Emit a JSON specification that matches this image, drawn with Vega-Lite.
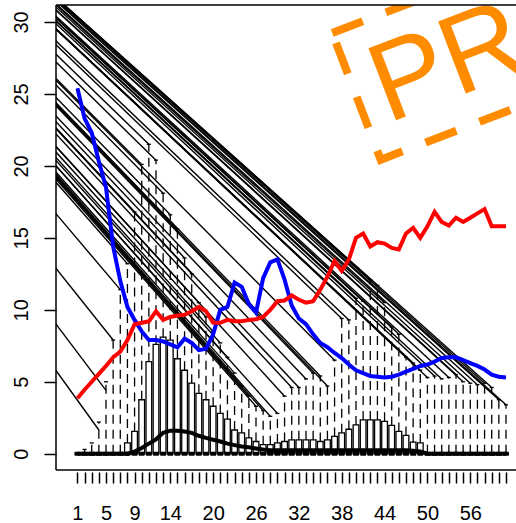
{
  "$schema": "https://vega.github.io/schema/vega-lite/v6.json",
  "width": 460,
  "height": 465,
  "autosize": {"type": "none"},
  "padding": {"left": 56, "top": 5, "right": 0, "bottom": 53},
  "background": "white",
  "config": {
    "view": {"stroke": null},
    "font": "Liberation Sans",
    "scale": {"continuousPadding": 0},
    "axis": {"grid": false, "domain": false, "title": null, "labelColor": "black", "tickColor": "black", "labelFont": "Liberation Sans", "labelFontSize": 20, "tickWidth": 1.5}
  },
  "datasets": {
    "cats": [
      {"cat":1,"q1":0,"q3":0,"top":0,"med":0,"red":3.85,"blue":25.4},
      {"cat":2,"q1":0,"q3":0,"top":0.3,"med":0,"red":4.45,"blue":23.3},
      {"cat":3,"q1":0,"q3":0,"top":0.75,"med":0,"red":5.0,"blue":22.3},
      {"cat":4,"q1":0,"q3":0,"top":2.2,"med":0,"red":5.55,"blue":20.3},
      {"cat":5,"q1":0,"q3":0,"top":5.0,"med":0,"red":6.1,"blue":18.5},
      {"cat":6,"q1":0,"q3":0,"top":7.9,"med":0,"red":6.7,"blue":14.4},
      {"cat":7,"q1":0,"q3":0,"top":11.4,"med":0,"red":7.1,"blue":12.0},
      {"cat":8,"q1":0,"q3":0.75,"top":13.2,"med":0,"red":7.9,"blue":10.2},
      {"cat":9,"q1":0,"q3":1.55,"top":16.8,"med":0.15,"red":9.0,"blue":9.3},
      {"cat":10,"q1":0,"q3":3.75,"top":20.1,"med":0.4,"red":9.1,"blue":8.5},
      {"cat":11,"q1":0,"q3":6.4,"top":21.5,"med":0.7,"red":9.2,"blue":7.9},
      {"cat":12,"q1":0,"q3":7.6,"top":20.4,"med":1.0,"red":9.9,"blue":7.9},
      {"cat":13,"q1":0,"q3":8.1,"top":18.1,"med":1.45,"red":9.3,"blue":7.8},
      {"cat":14,"q1":0,"q3":7.9,"top":16.6,"med":1.6,"red":9.5,"blue":7.6},
      {"cat":15,"q1":0,"q3":6.6,"top":15.6,"med":1.6,"red":9.6,"blue":7.4},
      {"cat":16,"q1":0,"q3":5.8,"top":13.6,"med":1.55,"red":9.65,"blue":8.0},
      {"cat":17,"q1":0,"q3":4.9,"top":12.5,"med":1.45,"red":9.9,"blue":7.7},
      {"cat":18,"q1":0,"q3":4.2,"top":10.5,"med":1.25,"red":10.2,"blue":7.2},
      {"cat":19,"q1":0,"q3":3.75,"top":9.5,"med":1.1,"red":9.9,"blue":7.3},
      {"cat":20,"q1":0,"q3":3.3,"top":8.5,"med":0.97,"red":9.1,"blue":8.3},
      {"cat":21,"q1":0,"q3":2.8,"top":7.7,"med":0.85,"red":9.1,"blue":10.0},
      {"cat":22,"q1":0,"q3":2.4,"top":6.7,"med":0.7,"red":9.3,"blue":10.2},
      {"cat":23,"q1":0,"q3":1.65,"top":5.6,"med":0.6,"red":9.2,"blue":11.9},
      {"cat":24,"q1":0,"q3":1.45,"top":4.7,"med":0.5,"red":9.2,"blue":11.6},
      {"cat":25,"q1":0,"q3":1.1,"top":4.0,"med":0.45,"red":9.3,"blue":10.4},
      {"cat":26,"q1":0,"q3":0.85,"top":3.3,"med":0.37,"red":9.35,"blue":9.8},
      {"cat":27,"q1":0,"q3":0.63,"top":3.0,"med":0.3,"red":9.5,"blue":12.2},
      {"cat":28,"q1":0,"q3":0.63,"top":2.6,"med":0.25,"red":10.0,"blue":13.3},
      {"cat":29,"q1":0,"q3":0.75,"top":2.8,"med":0.25,"red":10.6,"blue":13.5},
      {"cat":30,"q1":0,"q3":0.85,"top":4.0,"med":0.25,"red":10.65,"blue":12.1},
      {"cat":31,"q1":0,"q3":0.97,"top":4.6,"med":0.25,"red":11.0,"blue":10.3},
      {"cat":32,"q1":0,"q3":0.97,"top":4.6,"med":0.25,"red":10.7,"blue":9.4},
      {"cat":33,"q1":0,"q3":0.97,"top":5.2,"med":0.25,"red":10.5,"blue":9.0},
      {"cat":34,"q1":0,"q3":0.97,"top":5.6,"med":0.25,"red":10.6,"blue":8.3},
      {"cat":35,"q1":0,"q3":0.85,"top":5.4,"med":0.25,"red":11.4,"blue":7.7},
      {"cat":36,"q1":0,"q3":0.97,"top":4.7,"med":0.25,"red":12.3,"blue":7.4},
      {"cat":37,"q1":0,"q3":1.2,"top":6.5,"med":0.25,"red":13.4,"blue":7.0},
      {"cat":38,"q1":0,"q3":1.45,"top":9.4,"med":0.25,"red":12.7,"blue":6.65},
      {"cat":39,"q1":0,"q3":1.7,"top":9.3,"med":0.25,"red":13.5,"blue":6.2},
      {"cat":40,"q1":0,"q3":2.0,"top":10.8,"med":0.25,"red":15.0,"blue":5.8},
      {"cat":41,"q1":0,"q3":2.35,"top":10.6,"med":0.25,"red":15.3,"blue":5.6},
      {"cat":42,"q1":0,"q3":2.35,"top":12.1,"med":0.25,"red":14.4,"blue":5.4},
      {"cat":43,"q1":0,"q3":2.35,"top":11.7,"med":0.25,"red":14.7,"blue":5.35},
      {"cat":44,"q1":0,"q3":2.25,"top":10.5,"med":0.25,"red":14.6,"blue":5.3},
      {"cat":45,"q1":0,"q3":1.97,"top":8.8,"med":0.25,"red":14.3,"blue":5.35},
      {"cat":46,"q1":0,"q3":1.55,"top":8.3,"med":0.25,"red":14.2,"blue":5.5},
      {"cat":47,"q1":0,"q3":1.27,"top":6.7,"med":0.25,"red":15.3,"blue":5.7},
      {"cat":48,"q1":0,"q3":0.8,"top":6.3,"med":0.2,"red":15.7,"blue":5.9},
      {"cat":49,"q1":0,"q3":0.75,"top":5.8,"med":0.15,"red":15.0,"blue":6.1},
      {"cat":50,"q1":0,"q3":0,"top":5.3,"med":0,"red":15.8,"blue":6.2},
      {"cat":51,"q1":0,"q3":0,"top":5.4,"med":0,"red":16.8,"blue":6.4},
      {"cat":52,"q1":0,"q3":0,"top":5.2,"med":0,"red":16.1,"blue":6.65},
      {"cat":53,"q1":0,"q3":0,"top":5.3,"med":0,"red":15.85,"blue":6.7},
      {"cat":54,"q1":0,"q3":0,"top":5.5,"med":0,"red":16.4,"blue":6.7},
      {"cat":55,"q1":0,"q3":0,"top":5.0,"med":0,"red":16.1,"blue":6.5},
      {"cat":56,"q1":0,"q3":0,"top":4.9,"med":0,"red":16.4,"blue":6.3},
      {"cat":57,"q1":0,"q3":0,"top":4.8,"med":0,"red":16.7,"blue":6.1},
      {"cat":58,"q1":0,"q3":0,"top":4.9,"med":0,"red":17.0,"blue":5.85},
      {"cat":59,"q1":0,"q3":0,"top":4.6,"med":0,"red":15.8,"blue":5.5},
      {"cat":60,"q1":0,"q3":0,"top":3.75,"med":0,"red":15.8,"blue":5.35},
      {"cat":61,"q1":0,"q3":0,"top":3.4,"med":0,"red":15.8,"blue":5.3}
    ],
    "rays": [
      {"cat":4,"end":1.65},{"cat":5,"end":4.4},{"cat":6,"end":7.9},{"cat":7,"end":11.4},
      {"cat":8,"end":13.2},{"cat":9,"end":16.8},{"cat":10,"end":20.1},{"cat":11,"end":21.5},
      {"cat":12,"end":20.4},{"cat":13,"end":18.1},{"cat":14,"end":16.6},{"cat":15,"end":15.6},
      {"cat":16,"end":13.6},{"cat":17,"end":12.5},{"cat":18,"end":10.5},{"cat":19,"end":9.5},
      {"cat":20,"end":8.5},{"cat":21,"end":7.7},{"cat":22,"end":6.7},{"cat":23,"end":5.6},
      {"cat":24,"end":4.7},{"cat":25,"end":4.0},{"cat":26,"end":3.3},{"cat":27,"end":3.0},
      {"cat":28,"end":2.6},{"cat":29,"end":2.8},{"cat":30,"end":4.0},{"cat":31,"end":4.6},
      {"cat":32,"end":4.6},{"cat":33,"end":5.2},{"cat":34,"end":5.6},{"cat":35,"end":5.4},
      {"cat":36,"end":4.7},{"cat":37,"end":6.5},{"cat":38,"end":9.4},{"cat":39,"end":9.3},
      {"cat":40,"end":10.8},{"cat":41,"end":10.6},{"cat":42,"end":12.1},{"cat":43,"end":11.7},
      {"cat":44,"end":10.5},{"cat":45,"end":8.8},{"cat":46,"end":8.3},{"cat":47,"end":6.7},
      {"cat":48,"end":6.3},{"cat":49,"end":5.8},{"cat":50,"end":5.3},{"cat":51,"end":5.4},
      {"cat":52,"end":5.2},{"cat":53,"end":5.3},{"cat":54,"end":5.5},{"cat":55,"end":5.0},
      {"cat":56,"end":4.9},{"cat":57,"end":4.8},{"cat":58,"end":4.9},{"cat":59,"end":4.6},
      {"cat":60,"end":3.75},{"cat":61,"end":3.4}
    ],
    "stampbox": [
      {"k":0,"sx":36.67,"sy":29.24},
      {"k":1,"sx":43.46,"sy":20.43},
      {"k":2,"sx":104.0,"sy":31.96},
      {"k":3,"sx":97.2,"sy":40.75},
      {"k":4,"sx":36.67,"sy":29.24}
    ],
    "stamptext": [{"t":"PREVIEW","sx":44.4,"sy":22.95}]
  },
  "layer": [
    {
      "data": {"name": "cats"},
      "mark": {"type": "bar", "width": 5.7, "fill": "white", "stroke": "black", "strokeWidth": 1.3},
      "encoding": {
        "x": {"field": "cat", "type": "quantitative", "scale": {"domain": [-2, 62.4], "nice": false, "zero": false, "padding": 0},
          "axis": {"values": [1,2,3,4,5,6,7,8,9,10,11,12,13,14,15,16,17,18,19,20,21,22,23,24,25,26,27,28,29,30,31,32,33,34,35,36,37,38,39,40,41,42,43,44,45,46,47,48,49,50,51,52,53,54,55,56,57,58,59,60,61],
            "tickCount": 500, "format": "d",
            "labelExpr": "indexof([1,5,9,14,20,26,32,38,44,50,56], datum.value) >= 0 ? datum.label : ''",
            "tickSize": 11, "offset": 2, "labelBaseline": "alphabetic", "labelFontSize": 20,
            "labelPadding": 36, "labelOverlap": false, "labelFlush": false, "labelBound": false, "title": null}},
        "y": {"field": "q3", "type": "quantitative", "scale": {"domain": [-1.13, 31.18], "nice": false, "zero": false, "padding": 0},
          "axis": {"values": [0,5,10,15,20,25,30], "tickCount": 50, "format": "d", "tickSize": 12, "labelFontSize": 20,
            "labelAngle": 270, "labelAlign": "center", "labelBaseline": "alphabetic", "labelPadding": 17,
            "labelOverlap": false, "labelFlush": false, "title": null}},
        "y2": {"field": "q1"}
      }
    },
    {
      "data": {"name": "cats"},
      "mark": {"type": "rule", "strokeWidth": 1.3, "color": "black", "strokeDash": [9, 6]},
      "encoding": {
        "x": {"field": "cat", "type": "quantitative", "scale": {"domain": [-2, 62.4], "nice": false, "zero": false, "padding": 0}},
        "y": {"field": "q3", "type": "quantitative", "scale": {"domain": [-1.13, 31.18], "nice": false, "zero": false, "padding": 0}},
        "y2": {"field": "top"}
      }
    },
    {
      "data": {"name": "cats"},
      "mark": {"type": "tick", "orient": "horizontal", "size": 4, "thickness": 1.3, "color": "black", "opacity": 1},
      "encoding": {
        "x": {"field": "cat", "type": "quantitative", "scale": {"domain": [-2, 62.4], "nice": false, "zero": false, "padding": 0}},
        "y": {"field": "top", "type": "quantitative", "scale": {"domain": [-1.13, 31.18], "nice": false, "zero": false, "padding": 0}}
      }
    },
    {
      "data": {"name": "cats"},
      "mark": {"type": "tick", "orient": "horizontal", "size": 5.7, "thickness": 4, "color": "black", "opacity": 1},
      "encoding": {
        "x": {"field": "cat", "type": "quantitative", "scale": {"domain": [-2, 62.4], "nice": false, "zero": false, "padding": 0}},
        "y": {"field": "q1", "type": "quantitative", "scale": {"domain": [-1.13, 31.18], "nice": false, "zero": false, "padding": 0}}
      }
    },
    {
      "data": {"name": "rays"},
      "mark": {"type": "rule", "strokeWidth": 1.4, "color": "black", "clip": true},
      "encoding": {
        "x": {"field": "cat", "type": "quantitative", "scale": {"domain": [-2, 62.4], "nice": false, "zero": false, "padding": 0}},
        "y": {"field": "end", "type": "quantitative", "scale": {"domain": [-1.13, 31.18], "nice": false, "zero": false, "padding": 0}},
        "x2": {"datum": -108},
        "y2": {"datum": 78.8}
      }
    },
    {
      "data": {"name": "cats"},
      "mark": {"type": "line", "strokeWidth": 4, "color": "black"},
      "encoding": {
        "x": {"field": "cat", "type": "quantitative", "scale": {"domain": [-2, 62.4], "nice": false, "zero": false, "padding": 0}},
        "y": {"field": "med", "type": "quantitative", "scale": {"domain": [-1.13, 31.18], "nice": false, "zero": false, "padding": 0}}
      }
    },
    {
      "data": {"name": "cats"},
      "mark": {"type": "line", "strokeWidth": 4, "color": "#0000FF"},
      "encoding": {
        "x": {"field": "cat", "type": "quantitative", "scale": {"domain": [-2, 62.4], "nice": false, "zero": false, "padding": 0}},
        "y": {"field": "blue", "type": "quantitative", "scale": {"domain": [-1.13, 31.18], "nice": false, "zero": false, "padding": 0}}
      }
    },
    {
      "data": {"name": "cats"},
      "mark": {"type": "line", "strokeWidth": 4, "color": "#FF0000"},
      "encoding": {
        "x": {"field": "cat", "type": "quantitative", "scale": {"domain": [-2, 62.4], "nice": false, "zero": false, "padding": 0}},
        "y": {"field": "red", "type": "quantitative", "scale": {"domain": [-1.13, 31.18], "nice": false, "zero": false, "padding": 0}}
      }
    },
    {
      "data": {"name": "stampbox"},
      "mark": {"type": "line", "strokeWidth": 8, "color": "#FF8C00", "strokeDash": [33, 24.7], "strokeDashOffset": 47, "strokeCap": "butt", "strokeJoin": "miter", "clip": true},
      "encoding": {
        "x": {"field": "sx", "type": "quantitative", "scale": {"domain": [-2, 62.4], "nice": false, "zero": false, "padding": 0}},
        "y": {"field": "sy", "type": "quantitative", "scale": {"domain": [-1.13, 31.18], "nice": false, "zero": false, "padding": 0}},
        "order": {"field": "k", "type": "quantitative"}
      }
    },
    {
      "data": {"name": "stamptext"},
      "mark": {"type": "text", "angle": 339, "fontSize": 112, "font": "Liberation Sans", "align": "left", "baseline": "alphabetic", "color": "#FF8C00", "clip": true},
      "encoding": {
        "x": {"field": "sx", "type": "quantitative", "scale": {"domain": [-2, 62.4], "nice": false, "zero": false, "padding": 0}},
        "y": {"field": "sy", "type": "quantitative", "scale": {"domain": [-1.13, 31.18], "nice": false, "zero": false, "padding": 0}},
        "text": {"field": "t"}
      }
    },
    {
      "data": {"values": [{"b": 31.18}, {"b": -1.13}]},
      "mark": {"type": "rule", "strokeWidth": 1.5, "color": "black"},
      "encoding": {
        "y": {"field": "b", "type": "quantitative", "scale": {"domain": [-1.13, 31.18], "nice": false, "zero": false, "padding": 0}}
      }
    },
    {
      "data": {"values": [{"b": -2}]},
      "mark": {"type": "rule", "strokeWidth": 1.5, "color": "black"},
      "encoding": {
        "x": {"field": "b", "type": "quantitative", "scale": {"domain": [-2, 62.4], "nice": false, "zero": false, "padding": 0}}
      }
    }
  ]
}
